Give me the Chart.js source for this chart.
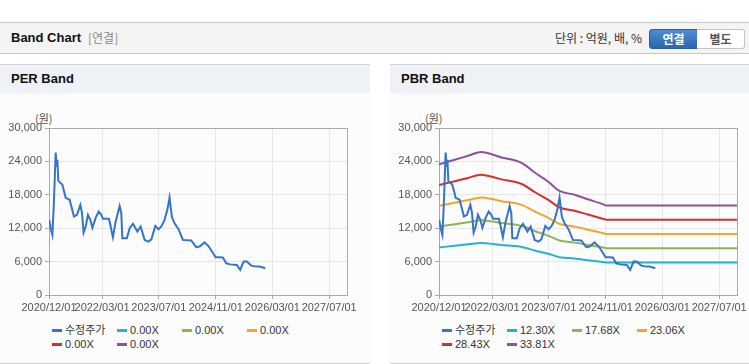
<!DOCTYPE html>
<html>
<head>
<meta charset="utf-8">
<script src="https://cdn.jsdelivr.net/npm/chart.js@4.4.1/dist/chart.umd.min.js"></script>
<style>
body{margin:0;width:749px;height:364px;overflow:hidden;background:#fff;position:relative;font-family:"Liberation Sans","Noto Sans CJK KR",sans-serif}
.top{position:absolute;left:0;top:22px;width:749px;height:30px;background:#f4f4f4;border-top:1px solid #c6c6c6;border-bottom:1px solid #c6c6c6}
.top .t{position:absolute;left:11px;top:0;line-height:30px;font-size:13px;font-weight:bold;color:#111}
.top .s{position:absolute;left:88px;top:0;line-height:30px;font-size:12px;color:#888;font-family:"Noto Sans CJK KR",sans-serif}
.top .u{position:absolute;right:107px;top:0;line-height:30px;font-size:12px;color:#333;font-family:"Noto Sans CJK KR",sans-serif}
.btn{position:absolute;top:6px;height:18px;line-height:18px;font-size:12px;font-weight:bold;text-align:center;font-family:"Noto Sans CJK KR",sans-serif}
.b1{left:649px;width:47px;background:linear-gradient(#4f8cd2,#2c66ab);border:1px solid #2b5e9c;border-radius:3px 0 0 3px;color:#fff}
.b2{left:697px;width:47px;background:#fff;border:1px solid #c4c4c4;border-left:none;border-radius:0 3px 3px 0;color:#555}
.panel{position:absolute;top:64px;width:370px;height:298px;background:#fcfcfc;border-top:1px solid #d4d4d4;border-bottom:1px solid #d4d4d4}
.ph{height:28px;line-height:28px;background:#eef1f6;padding-left:11px;font-size:13px;font-weight:bold;color:#111}
.panel canvas{position:absolute;left:0;top:31px}
.unit{position:absolute;left:35px;top:46px;font-size:11px;color:#555;font-family:"Noto Sans CJK KR",sans-serif;line-height:14px}
.legend{position:absolute;left:52px;top:258px;width:280px;display:flex;flex-wrap:wrap}
.legend .it{width:65px;height:14px;line-height:14px;font-size:11px;color:#333;white-space:nowrap;display:flex;align-items:center}
.legend .sw{display:inline-block;width:10px;height:3px;margin-right:3px}
</style>
</head>
<body>
<div class="top">
  <span class="t">Band Chart</span><span class="s">[연결]</span>
  <span class="u">단위 : 억원, 배, %</span>
  <div class="btn b1">연결</div><div class="btn b2">별도</div>
</div>

<div class="panel" style="left:0">
  <div class="ph">PER Band</div>
  <span class="unit">(원)</span>
  <canvas id="perChart" width="370" height="226"></canvas>
  <div class="legend" id="perLegend"></div>
</div>
<div class="panel" style="left:390px">
  <div class="ph">PBR Band</div>
  <span class="unit">(원)</span>
  <canvas id="pbrChart" width="370" height="226"></canvas>
  <div class="legend" id="pbrLegend"></div>
</div>

<script>
// axis
const xTickLabels = ['2020/12/01','2022/03/01','2023/07/01','2024/11/01','2026/03/01','2027/07/01'];
const xMin = '2020/12/01', xMax = '2027/12/01';
const yTicks = [0, 6000, 12000, 18000, 24000, 30000];

// adjusted price (수정주가)
const priceDates = ['2020/12/03','2020/12/15','2020/12/30','2021/01/10','2021/01/19','2021/01/27','2021/02/05','2021/02/11','2021/02/19','2021/03/26',
  '2021/04/23','2021/05/27','2021/07/03','2021/07/29','2021/08/27','2021/09/10','2021/09/24','2021/10/12','2021/10/31','2021/11/21',
  '2021/12/08','2022/01/05','2022/01/31','2022/02/23','2022/03/09','2022/04/29','2022/05/14','2022/06/02','2022/06/26','2022/07/30',
  '2022/08/13','2022/08/22','2022/09/30','2022/10/24','2022/11/21','2022/12/29','2023/01/26','2023/03/01','2023/04/04','2023/04/28',
  '2023/06/01','2023/06/29','2023/07/25','2023/08/19','2023/09/12','2023/10/01','2023/10/21','2023/11/13','2023/12/17','2024/01/23',
  '2024/04/04','2024/05/17','2024/06/15','2024/07/27','2024/09/02','2024/10/30','2024/11/27','2024/12/31','2025/01/29','2025/03/05',
  '2025/04/30','2025/05/29','2025/06/27','2025/07/25','2025/09/01','2025/10/13','2025/11/11','2025/12/30'];
const priceValues = [13500,12000,10800,15600,20700,25600,23000,24300,20500,19800,
  17460,17100,14100,14400,16200,14760,11200,12300,14400,13500,
  12060,13860,15000,14400,13680,13700,12300,10380,13200,16000,
  14760,10200,10200,12000,12780,11400,12300,9900,9600,10000,
  12420,11800,12400,13500,15300,17500,14000,12900,11820,9900,
  9800,8600,8700,9450,8700,6780,6800,6750,5700,5500,
  5400,4500,6000,6000,5280,5100,5100,4800];

// PBR bands
const bandDates = ['2020/12/01','2021/04/15','2021/08/07','2021/11/29','2022/03/09','2022/05/20','2022/09/11','2022/11/21',
  '2023/03/01','2023/06/23','2023/10/01','2024/02/07','2024/05/31','2024/10/21','2024/11/05','2027/12/01'];
const band1230 = [8550,8840,9100,9350,9170,8990,8800,8590,8000,7420,6800,6550,6260,5890,5850,5850];
const band1768 = [12290,12710,13070,13440,13180,12920,12650,12340,11500,10670,9780,9410,8990,8470,8410,8410];
const band2306 = [16030,16580,17050,17530,17190,16850,16510,16100,15010,13910,12760,12280,11730,11050,10970,10970];
const band2843 = [19760,20430,21020,21610,21190,20770,20350,19850,18500,17150,15720,15140,14460,13620,13520,13520];
const band3381 = [23500,24300,25000,25700,25200,24700,24200,23600,22000,20400,18700,18000,17200,16200,16080,16080];

const perLabels = ['수정주가','0.00X','0.00X','0.00X','0.00X','0.00X'];
const pbrLabels = ['수정주가','12.30X','17.68X','23.06X','28.43X','33.81X'];
const colors = ['#3474c9','#22b5c6','#8db556','#f2a530','#d2312b','#8e509c'];

const toMs = s => { const [y,m,d] = s.split('/').map(Number); return Date.UTC(y, m-1, d); };
const pts = (dates, vals) => dates.map((d,i)=> ({x: toMs(d), y: vals[i]}));

const frame = {
  id:'frame',
  beforeDatasetsDraw(chart){
    const a = chart.chartArea, c = chart.ctx;
    c.save(); c.strokeStyle = '#aaa'; c.lineWidth = 1;
    c.strokeRect(Math.round(a.left)+0.5, Math.round(a.top)+0.5, Math.round(a.right-a.left), Math.round(a.bottom-a.top));
    c.restore();
  }
};

function makeChart(id, legendId, labels, series){
  const datasets = labels.map((lab,i)=> ({
    label: lab,
    data: series[i] || [],
    borderColor: colors[i], backgroundColor: colors[i],
    borderWidth: 2, pointRadius: 0, fill: false,
    cubicInterpolationMode: i === 0 ? 'default' : 'monotone',
    tension: i === 0 ? 0 : 0.4
  }));
  const tickFont = {family:'"Liberation Sans Narrow","Liberation Sans",sans-serif', size:11};
  const chart = new Chart(document.getElementById(id), {
    type:'line',
    data:{datasets},
    plugins:[frame],
    options:{
      responsive:false, animation:false,
      layout:{padding:{top:32, right:23, left:0, bottom:0}},
      plugins:{legend:{display:false}, tooltip:{enabled:false}},
      scales:{
        x:{
          type:'linear', min: toMs(xMin), max: toMs(xMax),
          afterBuildTicks: s => { s.ticks = xTickLabels.map(t=> ({value: toMs(t)})); },
          afterFit: s => { s.height = 27; },
          ticks:{autoSkip:false, maxRotation:0, padding:2, color:'#555', font:tickFont,
            callback:(v,i)=> xTickLabels[i]},
          grid:{color:'#e6e6e6', tickLength:4, tickColor:'#aaa'},
          border:{color:'#aaa'}
        },
        y:{
          min:0, max:30000,
          afterBuildTicks: s => { s.ticks = yTicks.map(v=> ({value:v})); },
          afterFit: s => { s.width = 49; },
          ticks:{padding:3, color:'#555', font:tickFont, callback:v=> v.toLocaleString('en-US')},
          grid:{color:'#e6e6e6', tickLength:4, tickColor:'#aaa'},
          border:{color:'#aaa'}
        }
      }
    }
  });
  const items = Chart.defaults.plugins.legend.labels.generateLabels(chart);
  document.getElementById(legendId).innerHTML = items.map(it=>
    `<div class="it"><span class="sw" style="background:${it.strokeStyle}"></span>${it.text}</div>`).join('');
  return chart;
}

const price = pts(priceDates, priceValues);
makeChart('perChart','perLegend', perLabels, [price]);
makeChart('pbrChart','pbrLegend', pbrLabels, [price,
  pts(bandDates, band1230), pts(bandDates, band1768), pts(bandDates, band2306),
  pts(bandDates, band2843), pts(bandDates, band3381)]);
</script>
</body>
</html>
